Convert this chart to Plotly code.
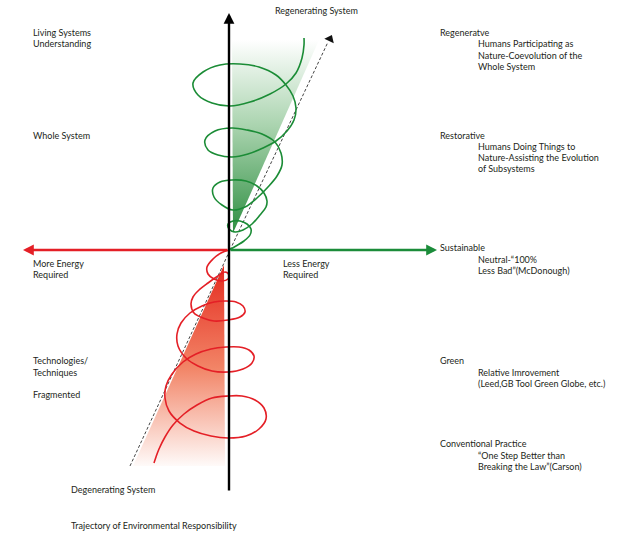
import plotly.graph_objects as go

W, H = 620, 535
FONT = "Lato, sans-serif"
TXT = "#231f20"
GREEN = "#1b8c36"
RED = "#e41f26"

# ---- spiral traces (pixel coordinates, y downwards) ----
green_x = [229, 236, 244, 250, 251, 247, 240, 233, 228, 229, 235, 243, 252, 260, 266, 267,
           264, 257, 246, 232, 220, 213, 214, 222, 233, 245, 257, 268, 277, 282, 281, 275,
           262, 247, 232, 215, 205, 208, 218, 232, 248, 263, 276, 287, 294, 296, 293, 286,
           276, 259, 240, 220, 203, 193, 198, 212, 230, 250, 270, 286, 296, 302, 304, 304]
green_y = [250, 246, 241, 235, 229, 224, 221, 221, 224, 229, 232, 230, 224, 215, 207, 201,
           193, 186, 181, 180, 182, 188, 197, 205, 210, 207, 198, 187, 176, 165, 153, 142,
           134, 130, 128, 131, 140, 150, 155, 157, 154, 148, 141, 131, 120, 108, 96, 85,
           75, 67, 64, 65, 72, 83, 95, 103, 106, 102, 94, 84, 73, 58, 45, 38]

red_x = [229, 221, 213, 207, 208, 214, 222, 228, 229, 225, 218, 208, 199, 193, 191, 194,
         203, 214, 228, 240, 245, 243, 236, 226, 214, 202, 190, 181, 177, 178, 186, 198,
         212, 228, 243, 252, 254, 249, 239, 226, 211, 196, 183, 172, 166, 165, 169, 180,
         194, 211, 228, 246, 259, 266, 264, 255, 242, 228, 212, 197, 184, 173, 165, 159,
         156, 154]
red_y = [250, 253, 259, 267, 274, 279, 281, 279, 275, 272, 276, 283, 290, 297, 304, 313,
         318, 321, 320, 317, 312, 306, 302, 301, 302, 306, 313, 323, 334, 346, 358, 366,
         371, 372, 369, 363, 356, 350, 347, 347, 349, 354, 362, 374, 386, 398, 411, 423,
         431, 436, 438, 436, 429, 419, 408, 400, 396, 396, 398, 405, 414, 425, 437, 449,
         457, 463]

# shaded wedges
green_wedge_x = [232, 319, 233]
green_wedge_y = [40, 40, 233]
red_wedge_x = [224, 225, 133]
red_wedge_y = [265, 466, 466]

# dashed trajectory lines
dash_up = ([230, 328], [250, 42])
dash_down = ([230, 130], [250, 466])

# ---- labels ----
left_labels = [("Living Systems", 32), ("Understanding", 43.5), ("Whole System", 135),
               ("More Energy", 263.5), ("Required", 274.5), ("Technologies/", 360.5),
               ("Techniques", 372), ("Fragmented", 394)]
right_head = [("Regeneratve", 32.3), ("Restorative", 135), ("Sustainable", 247.7),
              ("Green", 360.7), ("Conventional Practice", 443.7)]
right_sub = [("Humans Participating as", 43.5), ("Nature-Coevolution of the", 55),
             ("Whole System", 66.3), ("Humans Doing Things to", 146.3),
             ("Nature-Assisting the Evolution", 157.3), ("of Subsystems", 168.5),
             ("Neutral-\u201c100%", 259), ("Less Bad\u201d(McDonough)", 270.3),
             ("Relative Imrovement", 372), ("(Leed,GB Tool Green Globe, etc.)", 383.3),
             ("\u201cOne Step Better than", 455), ("Breaking the Law\u201d(Carson)", 466.3)]
other_labels = [("Regenerating System", 273, 10), ("Less Energy", 281, 263.5),
                ("Required", 281, 274.5), ("Degenerating System", 69, 489.7),
                ("Trajectory of Environmental Responsibility", 69, 525)]

fig = go.Figure()

fig.add_trace(go.Scatter(
    x=green_wedge_x + [green_wedge_x[0]], y=green_wedge_y + [green_wedge_y[0]],
    mode="lines", line=dict(width=0), fill="toself",
    fillgradient=dict(type="vertical", start=40, stop=233,
                      colorscale=[[0, "#ffffff"], [0.45, "#a9d3ae"], [1, "#2f8f42"]]),
    hoverinfo="skip", showlegend=False))

fig.add_trace(go.Scatter(
    x=red_wedge_x + [red_wedge_x[0]], y=red_wedge_y + [red_wedge_y[0]],
    mode="lines", line=dict(width=0), fill="toself",
    fillgradient=dict(type="vertical", start=265, stop=470,
                      colorscale=[[0, "#e42a1f"], [0.5, "#f28466"], [1, "#ffffff"]]),
    hoverinfo="skip", showlegend=False))

for xs, ys in (dash_up, dash_down):
    fig.add_trace(go.Scatter(x=xs, y=ys, mode="lines",
                             line=dict(color="#444444", width=1, dash="3px,2px"),
                             hoverinfo="skip", showlegend=False))

fig.add_trace(go.Scatter(x=[330], y=[39], mode="markers",
                         marker=dict(symbol="triangle-up", size=9, angle=25, color="#111111"),
                         hoverinfo="skip", showlegend=False))

fig.add_trace(go.Scatter(x=green_x, y=green_y, mode="lines",
                         line=dict(color=GREEN, width=1.6, shape="spline", smoothing=1.0),
                         hoverinfo="skip", showlegend=False))
fig.add_trace(go.Scatter(x=red_x, y=red_y, mode="lines",
                         line=dict(color=RED, width=1.6, shape="spline", smoothing=1.0),
                         hoverinfo="skip", showlegend=False))

# axes arrows
arrows = [(229, 13, 229, 492, "#000000"), (23, 250, 229, 250, RED), (437, 250, 229, 250, "#1b8c3a")]
for x, y, ax, ay, c in arrows:
    fig.add_annotation(x=x, y=y, ax=ax, ay=ay, xref="x", yref="y", axref="x", ayref="y",
                       showarrow=True, arrowhead=2, arrowsize=0.9, arrowwidth=2.4,
                       arrowcolor=c, text="", standoff=0)

def txt(s, x, y):
    fig.add_annotation(x=x, y=y, xref="x", yref="y", text=s, showarrow=False,
                       xanchor="left", yanchor="middle",
                       font=dict(family=FONT, size=9, color=TXT))

for s, y in left_labels:
    txt(s, 31, y)
for s, y in right_head:
    txt(s, 438, y)
for s, y in right_sub:
    txt(s, 476, y)
for s, x, y in other_labels:
    txt(s, x, y)

fig.update_layout(
    width=W, height=H, margin=dict(l=0, r=0, t=0, b=0),
    paper_bgcolor="white", plot_bgcolor="white",
    xaxis=dict(range=[0, W], visible=False, fixedrange=True),
    yaxis=dict(range=[H, 0], visible=False, fixedrange=True),
    showlegend=False,
)

fig.write_html("out.html", config={"displayModeBar": False},
               post_script="document.body.style.margin='0';document.body.style.overflow='hidden';")
